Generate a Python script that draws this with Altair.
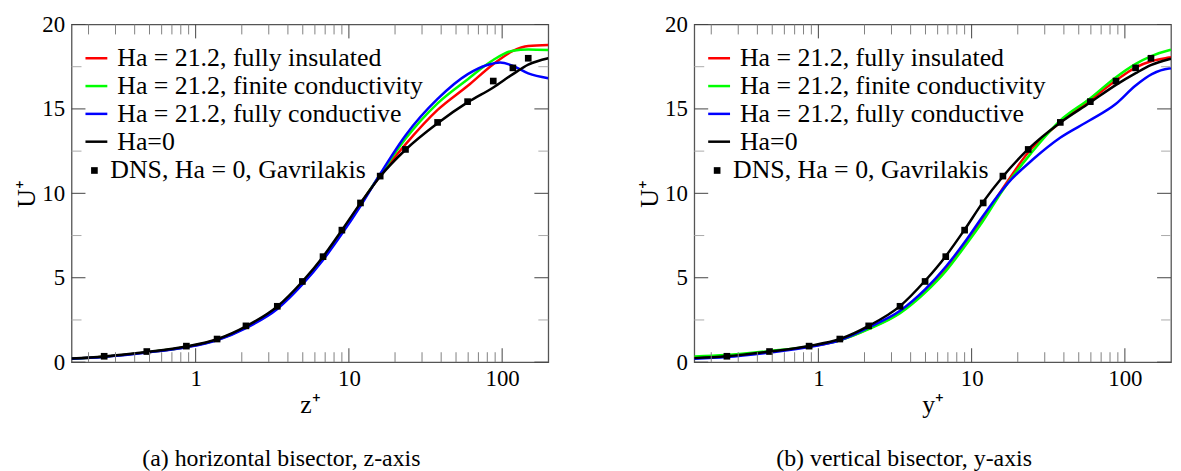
import altair as alt
import pandas as pd

FONT = "Liberation Serif"
XMIN, XMAX = 0.155, 200.0
W, H = 480, 340

SERIES = ["Ha = 21.2, fully insulated", "Ha = 21.2, finite conductivity",
          "Ha = 21.2, fully conductive", "Ha=0"]
COLORS = ["#ff0000", "#00ff00", "#0000ff", "#000000"]
DNS = "DNS, Ha = 0, Gavrilakis"

# DNS reference points (same in both panels)
dns_x = [0.253, 0.48, 0.87, 1.38, 2.13, 3.41, 4.97, 6.78, 9.0, 11.9, 16.0, 23.4, 37.9, 59.5, 87.5, 117.5, 148.0]
dns_u = [0.35, 0.63, 0.95, 1.37, 2.15, 3.31, 4.78, 6.25, 7.82, 9.43, 11.02, 12.6, 14.2, 15.43, 16.65, 17.43, 18.0]

# ---- panel (a): horizontal bisector, z+ ----
a_red_x = [0.155, 0.25, 0.48, 0.87, 1.38, 2.13, 3.41, 4.97, 6.78, 9.0, 11.9, 16.0, 23.4, 37.9, 59.7, 87.5, 117.6, 148, 200]
a_red_u = [0.2, 0.32, 0.58, 0.9, 1.33, 2.08, 3.24, 4.7, 6.17, 7.75, 9.38, 11.05, 12.9, 14.94, 16.37, 17.65, 18.43, 18.72, 18.78]
a_grn_x = [0.155, 0.25, 0.48, 0.87, 1.38, 2.13, 3.41, 4.97, 6.78, 9.0, 11.9, 16.0, 23.4, 37.9, 59.7, 87.5, 117.6, 148, 200]
a_grn_u = [0.2, 0.32, 0.58, 0.9, 1.32, 2.06, 3.22, 4.65, 6.12, 7.7, 9.35, 11.1, 13.23, 15.33, 16.76, 17.9, 18.45, 18.52, 18.49]
a_blu_x = [0.155, 0.25, 0.48, 0.87, 1.38, 2.13, 3.41, 4.97, 6.78, 9.0, 11.9, 16.0, 23.4, 37.9, 59.7, 80.0, 97.0, 117.6, 148, 200]
a_blu_u = [0.2, 0.31, 0.57, 0.88, 1.3, 2.02, 3.15, 4.6, 6.05, 7.6, 9.25, 11.15, 13.43, 15.59, 17.06, 17.6, 17.75, 17.55, 17.1, 16.82]
a_blk_x = [0.155, 0.25, 0.48, 0.87, 1.38, 2.13, 3.41, 4.97, 6.78, 9.0, 11.9, 16.0, 23.4, 37.9, 59.7, 87.5, 117.6, 148, 200]
a_blk_u = [0.22, 0.34, 0.6, 0.93, 1.36, 2.12, 3.3, 4.78, 6.25, 7.82, 9.42, 11.0, 12.58, 14.15, 15.4, 16.27, 17.06, 17.62, 18.0]

# ---- panel (b): vertical bisector, y+ ----
b_red_x = [0.155, 0.25, 0.48, 0.87, 1.38, 2.13, 3.41, 4.97, 6.78, 9.0, 11.8, 16.0, 23.3, 38.0, 58.7, 87.0, 117.0, 150.0, 194.0, 200]
b_red_u = [0.28, 0.38, 0.62, 0.92, 1.3, 1.99, 2.95, 4.2, 5.48, 6.95, 8.45, 10.3, 12.4, 14.21, 15.49, 16.67, 17.45, 17.84, 18.04, 18.06]
b_grn_x = [0.155, 0.25, 0.48, 0.87, 1.38, 2.13, 3.41, 4.97, 6.78, 9.0, 11.8, 16.0, 24.3, 37.8, 58.7, 87.1, 117.0, 150.0, 194.0, 200]
b_grn_u = [0.33, 0.42, 0.66, 0.93, 1.3, 1.96, 2.9, 4.12, 5.39, 6.85, 8.33, 10.2, 12.35, 14.31, 15.59, 16.86, 17.65, 18.14, 18.47, 18.5]
b_blu_x = [0.155, 0.25, 0.48, 0.87, 1.38, 2.13, 3.41, 4.97, 6.78, 9.0, 11.8, 17.2, 25.5, 37.8, 58.7, 87.1, 117.0, 150.0, 194.0, 200]
b_blu_u = [0.2, 0.3, 0.57, 0.9, 1.3, 2.06, 3.04, 4.31, 5.65, 7.1, 8.63, 10.59, 12.06, 13.29, 14.31, 15.29, 16.37, 17.06, 17.39, 17.4]
b_blk_x = [0.155, 0.25, 0.48, 0.87, 1.38, 2.13, 3.41, 4.97, 6.78, 9.0, 11.8, 16.0, 23.3, 38.0, 58.7, 87.0, 117.0, 147.6, 194.0, 200]
b_blk_u = [0.24, 0.35, 0.63, 0.96, 1.37, 2.15, 3.32, 4.82, 6.28, 7.85, 9.45, 11.0, 12.6, 14.2, 15.35, 16.41, 17.1, 17.59, 17.94, 17.97]

# tick values
x_major = [1, 10, 100]
x_minor = [0.2, 0.3, 0.4, 0.5, 0.6, 0.7, 0.8, 0.9, 2, 3, 4, 5, 6, 7, 8, 9,
           20, 30, 40, 50, 60, 70, 80, 90]
y_major = [0, 5, 10, 15, 20]
y_minor = [2.5, 7.5, 12.5, 17.5]

xsc = alt.Scale(type="log", domain=[XMIN, XMAX], nice=False)
ysc = alt.Scale(domain=[0, 20], nice=False, zero=False)
csc = alt.Scale(domain=SERIES, range=COLORS)
ssc = alt.Scale(domain=[DNS], range=["square"])

line_legend = alt.Legend(
    title=None, orient="none", legendX=12, legendY=21,
    labelFont=FONT, labelFontSize=26, labelColor="black", labelLimit=600,
    symbolType="stroke", symbolSize=484, symbolStrokeWidth=2.5,
    labelOffset=8, rowPadding=2, padding=0,
)
dns_legend = alt.Legend(
    title=None, orient="none", legendX=10, legendY=134,
    labelFont=FONT, labelFontSize=26, labelColor="black", labelLimit=600,
    symbolSize=45, symbolFillColor="black", symbolStrokeWidth=0,
    labelOffset=3, padding=0, symbolOffset=0,
)


def panel(curves, xtitle, caption):
    xax = alt.Axis(values=x_major, format="d", title=xtitle, labelPadding=5, titlePadding=2,
                   ticks=False, domain=False, grid=False,
                   labelFont=FONT, titleFont=FONT, labelFontSize=23, titleFontSize=26)
    yax = alt.Axis(values=y_major, title="U\u207a", labelPadding=7, titlePadding=2,
                   ticks=False, domain=False, grid=False,
                   labelFont=FONT, titleFont=FONT, labelFontSize=23, titleFontSize=26)
    layers = []
    for name, xs, us in curves:
        df = pd.DataFrame({"x": xs, "u": us, "series": name})
        layers.append(
            alt.Chart(df).mark_line(strokeWidth=2.5, interpolate="monotone", clip=True).encode(
                x=alt.X("x:Q", scale=xsc, axis=xax),
                y=alt.Y("u:Q", scale=ysc, axis=yax),
                color=alt.Color("series:N", scale=csc, legend=line_legend),
            )
        )
    dns = pd.DataFrame({"x": dns_x, "u": dns_u, "src": DNS})
    layers.append(
        alt.Chart(dns).mark_point(size=45, color="black", filled=True, opacity=1).encode(
            x=alt.X("x:Q", scale=xsc, axis=xax), y=alt.Y("u:Q", scale=ysc, axis=yax),
            shape=alt.Shape("src:N", scale=ssc, legend=dns_legend),
        )
    )
    # inward ticks on all four sides
    for vals, L, col in [(x_major, 14, "#444444"), (x_minor, 10, "#808080")]:
        d = pd.DataFrame({"x": vals})
        layers.append(alt.Chart(d).mark_rule(color=col, strokeWidth=1, y2Offset=-L).encode(
            x=alt.X("x:Q", scale=xsc, axis=xax), y=alt.YDatum(0, scale=ysc, axis=yax), y2=alt.datum(0)))
        layers.append(alt.Chart(d).mark_rule(color=col, strokeWidth=1, y2Offset=L).encode(
            x=alt.X("x:Q", scale=xsc, axis=xax), y=alt.YDatum(20, scale=ysc, axis=yax), y2=alt.datum(20)))
    for vals, L, col in [(y_major, 14, "#444444"), (y_minor, 10, "#aaaaaa")]:
        d = pd.DataFrame({"u": vals})
        layers.append(alt.Chart(d).mark_rule(color=col, strokeWidth=1, x2Offset=L).encode(
            y=alt.Y("u:Q", scale=ysc, axis=yax), x=alt.XDatum(XMIN, scale=xsc, axis=xax), x2=alt.datum(XMIN)))
        layers.append(alt.Chart(d).mark_rule(color=col, strokeWidth=1, x2Offset=-L).encode(
            y=alt.Y("u:Q", scale=ysc, axis=yax), x=alt.XDatum(XMAX, scale=xsc, axis=xax), x2=alt.datum(XMAX)))
    return alt.layer(*layers).properties(
        width=W, height=H,
        title=alt.TitleParams(caption, orient="bottom", anchor="middle", frame="bounds",
                              fontSize=24, font=FONT, fontWeight="normal", color="black", offset=30),
    )


pa = panel([(SERIES[0], a_red_x, a_red_u), (SERIES[1], a_grn_x, a_grn_u),
            (SERIES[2], a_blu_x, a_blu_u), (SERIES[3], a_blk_x, a_blk_u)],
           "z\u207a", "(a) horizontal bisector, z-axis")
pb = panel([(SERIES[0], b_red_x, b_red_u), (SERIES[1], b_grn_x, b_grn_u),
            (SERIES[2], b_blu_x, b_blu_u), (SERIES[3], b_blk_x, b_blk_u)],
           "y\u207a", "(b) vertical bisector, y-axis")

chart = (
    alt.hconcat(pa, pb, spacing=86)
    .resolve_scale(color="independent", shape="independent")
    .resolve_legend(color="independent", shape="independent")
    .properties(padding={"top": 3, "left": 5, "right": 0, "bottom": 0})
    .configure(font=FONT)
    .configure_view(stroke="#555555", strokeWidth=1.3)
    .configure_axis(labelFont=FONT, titleFont=FONT, labelFontSize=23, titleFontSize=26,
                    labelColor="black", titleColor="black", titleFontWeight="normal")
)

chart.save("out.html", embed_options={"renderer": "svg", "actions": False})
